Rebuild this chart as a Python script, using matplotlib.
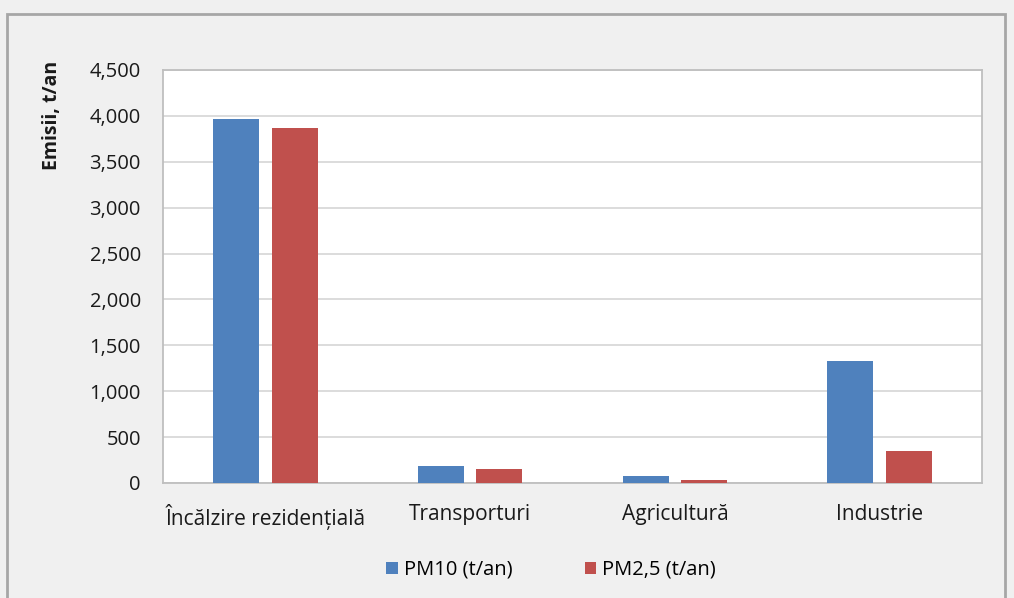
import matplotlib
matplotlib.use("Agg")
import matplotlib.pyplot as plt
import numpy as np
from matplotlib.patches import Rectangle
from matplotlib.ticker import FuncFormatter

categories = ["Încălzire rezidențială", "Transporturi", "Agricultură", "Industrie"]
pm10 = [3970, 185, 76, 1330]
pm25 = [3870, 150, 33, 352]
series_names = ["PM10 (t/an)", "PM2,5 (t/an)"]

plt.rcParams['font.family'] = ['Open Sans', 'DejaVu Sans']

fig = plt.figure(figsize=(10.14, 5.98), dpi=100, facecolor="#f0f0f0")
fig.patches.append(Rectangle((7/1014, -0.1), (1005-7)/1014, 1-14/598+0.1,
                             transform=fig.transFigure, fill=False,
                             edgecolor="#a6a6a6", linewidth=2.0, zorder=0))

ax = fig.add_axes([163/1014, 1-483/598, (982-163)/1014, (483-70)/598])
ax.set_facecolor("white")

x = np.arange(len(categories))
w = 0.225
off = 0.143
ax.bar(x - off, pm10, w, color="#4f81bd", label=series_names[0], zorder=3)
ax.bar(x + off, pm25, w, color="#c0504d", label=series_names[1], zorder=3)

ax.set_xlim(-0.5, 3.5)
ax.set_ylim(0, 4500)
ax.set_yticks(np.arange(0, 4501, 500))
ax.yaxis.set_major_formatter(FuncFormatter(lambda v, p: f"{int(v):,}"))
ax.set_xticks(x)
ax.set_xticklabels(categories)
ax.grid(axis="y", color="#d9d9d9", linewidth=1.3, zorder=0)
ax.tick_params(axis="both", length=0, colors="#1a1a1a")
ax.tick_params(axis="y", pad=16, labelsize=14.5)
ax.tick_params(axis="x", pad=15, labelsize=15)
for s in ["left", "right", "top", "bottom"]:
    ax.spines[s].set_color("#bfbfbf")
    ax.spines[s].set_linewidth(1.3)

fig.text(52/1014, 1-61/598, "Emisii, t/an", rotation=90, ha="center", va="top",
         fontsize=14, fontweight="bold", color="#1a1a1a")

leg = fig.legend(loc="center", bbox_to_anchor=(551/1014, 1-570/598), ncol=2,
                 frameon=False, fontsize=14.5, handlelength=0.55, handleheight=0.55,
                 handletextpad=0.3, columnspacing=3.6)

fig.savefig("out.png", dpi=100, facecolor=fig.get_facecolor())
